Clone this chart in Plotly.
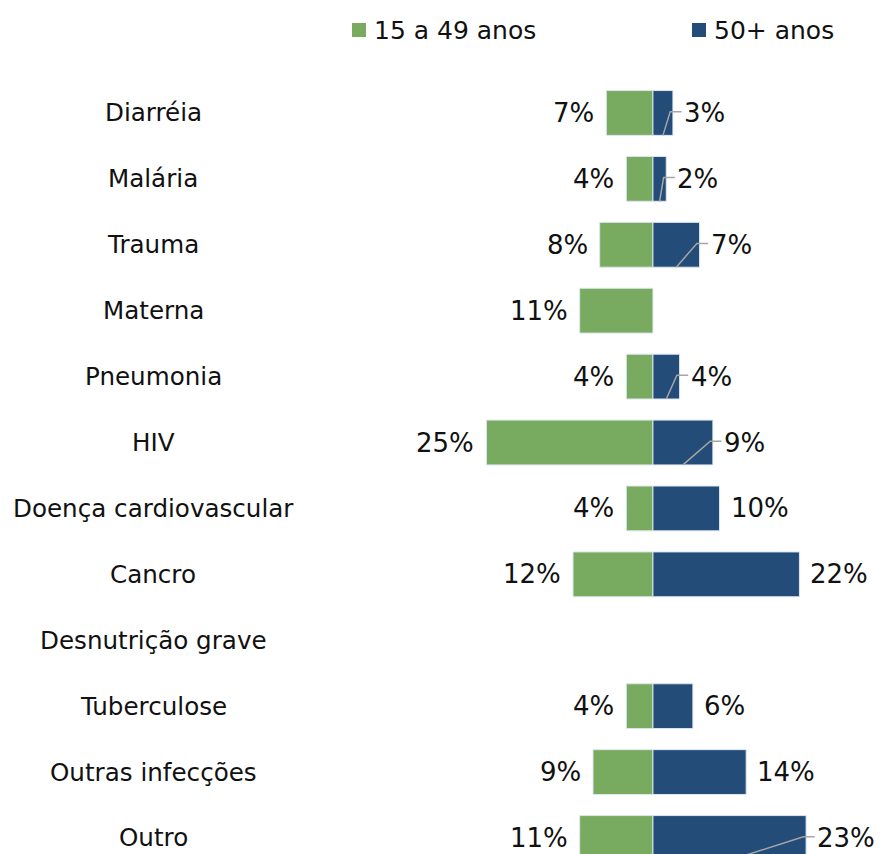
import plotly.graph_objects as go

categories = ["Diarréia", "Malária", "Trauma", "Materna", "Pneumonia", "HIV",
              "Doença cardiovascular", "Cancro", "Desnutrição grave",
              "Tuberculose", "Outras infecções", "Outro"]
young = [7, 4, 8, 11, 4, 25, 4, 12, None, 4, 9, 11]      # 15 a 49 anos
older = [3, 2, 7, None, 4, 9, 10, 22, None, 6, 14, 23]   # 50+ anos
series_names = ["15 a 49 anos", "50+ anos"]
callout_categories = ["Diarréia", "Malária", "Trauma", "Pneumonia", "HIV", "Outro"]

GREEN = "#78AB5F"
BLUE = "#234C78"
FONT = "DejaVu Sans"
TXT = "#111111"

W, H = 896, 854
ML, MR, MT, MB = 300, 0, 80, 0
PW, PH = W - ML - MR, H - MT - MB


def px_to_paper_x(px):
    return (px - ML) / PW


def px_to_paper_y(py):
    return (H - MB - py) / PH


idx = list(range(len(categories)))
fig = go.Figure()
fig.add_trace(go.Bar(
    y=idx, x=[-v if v is not None else None for v in young], orientation="h",
    name=series_names[0], marker=dict(color=GREEN, line=dict(color="#DCE6EE", width=1)),
    hoverinfo="skip", showlegend=False))
fig.add_trace(go.Bar(
    y=idx, x=older, orientation="h",
    name=series_names[1], marker=dict(color=BLUE, line=dict(color="#DCE6EE", width=1)),
    hoverinfo="skip", showlegend=False))

# leader lines for callout labels
for i, c in enumerate(categories):
    v = older[i]
    if c in callout_categories and v:
        fig.add_trace(go.Scatter(
            x=[0.5 * v, v - 0.4, v + 1.3], y=[i + 0.34, i - 0.02, i - 0.02],
            mode="lines", line=dict(color="#A6A6A6", width=1.5),
            showlegend=False, hoverinfo="skip"))

annotations = []
shapes = []
for i, c in enumerate(categories):
    annotations.append(dict(
        xref="paper", yref="y", x=px_to_paper_x(153), y=i, text=c, showarrow=False,
        xanchor="center", yanchor="middle", font=dict(family=FONT, size=24.6, color=TXT)))
    if young[i] is not None:
        annotations.append(dict(
            xref="x", yref="y", x=-young[i], y=i, text=f"{young[i]}%", showarrow=False,
            xanchor="right", yanchor="middle", xshift=-10,
            font=dict(family=FONT, size=26, color=TXT)))
    if older[i] is not None:
        annotations.append(dict(
            xref="x", yref="y", x=older[i], y=i, text=f"{older[i]}%", showarrow=False,
            xanchor="left", yanchor="middle", xshift=9,
            font=dict(family=FONT, size=26, color=TXT)))

# manual legend
for name, color, sx in [(series_names[0], GREEN, 352), (series_names[1], BLUE, 692)]:
    shapes.append(dict(
        type="rect", xref="paper", yref="paper",
        x0=px_to_paper_x(sx), x1=px_to_paper_x(sx + 14),
        y0=px_to_paper_y(37), y1=px_to_paper_y(23),
        fillcolor=color, line=dict(width=0)))
    annotations.append(dict(
        xref="paper", yref="paper", x=px_to_paper_x(sx + 20), y=px_to_paper_y(30),
        text=name, showarrow=False, xanchor="left", yanchor="middle",
        font=dict(family=FONT, size=25, color=TXT)))

fig.update_layout(
    width=W, height=H,
    margin=dict(l=ML, r=MR, t=MT, b=MB, autoexpand=False),
    paper_bgcolor="white", plot_bgcolor="white",
    barmode="relative", bargap=0.32,
    font=dict(family=FONT, size=24, color=TXT),
    xaxis=dict(range=[-53, 36.5], visible=False, fixedrange=True),
    yaxis=dict(range=[11.243, -0.5], visible=False, fixedrange=True),
    showlegend=False,
    annotations=annotations,
    shapes=shapes,
)

fig.write_html(
    "out.html",
    config={"displayModeBar": False},
    post_script="document.body.style.margin='0';document.body.style.overflow='hidden';",
)
